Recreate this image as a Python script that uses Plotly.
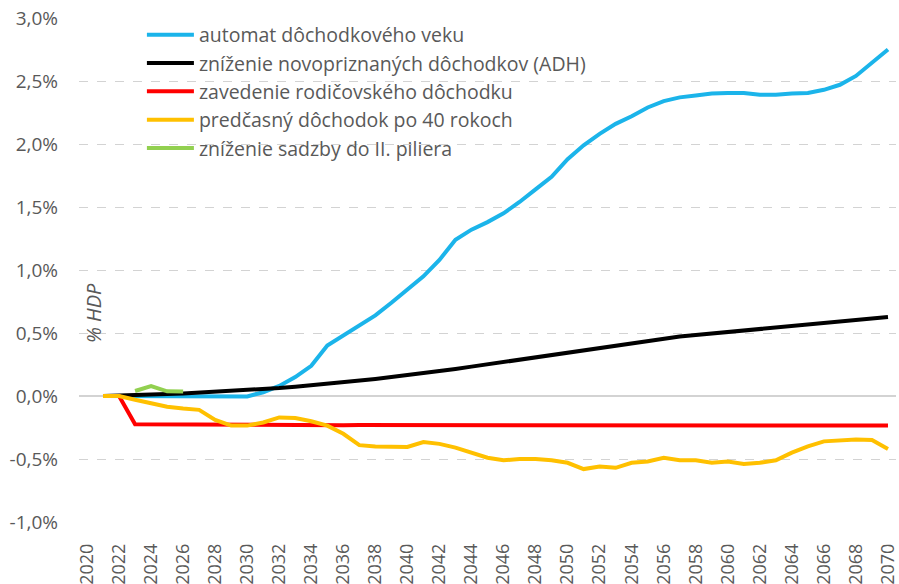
import plotly.graph_objects as go

years = list(range(2021, 2071))

automat = [0, 0, -0.005, -0.005, -0.005, -0.005, -0.005, -0.005, -0.005, -0.003,
           0.03, 0.08, 0.15, 0.24, 0.40, 0.48, 0.56, 0.64, 0.74, 0.85,
           0.95, 1.08, 1.24, 1.32, 1.38, 1.45, 1.54, 1.64, 1.74, 1.88,
           1.99, 2.08, 2.16, 2.22, 2.29, 2.34, 2.37, 2.385, 2.40, 2.405,
           2.405, 2.39, 2.39, 2.40, 2.405, 2.43, 2.47, 2.54, 2.64, 2.75]

adh = [0, 0.002, 0.005, 0.01, 0.015, 0.02, 0.026, 0.032, 0.039, 0.046,
       0.054, 0.063, 0.073, 0.084, 0.096, 0.108, 0.121, 0.135, 0.15, 0.165,
       0.18, 0.197, 0.215, 0.233, 0.252, 0.271, 0.29, 0.309, 0.328, 0.347,
       0.366, 0.385, 0.404, 0.423, 0.442, 0.46, 0.472, 0.484, 0.496, 0.508,
       0.52, 0.532, 0.543, 0.555, 0.567, 0.579, 0.591, 0.603, 0.615, 0.627]

rodic = [0, 0, -0.225, -0.226, -0.227, -0.228, -0.229, -0.230, -0.231, -0.232,
         -0.232, -0.232, -0.232, -0.232, -0.232, -0.232, -0.231, -0.231, -0.231, -0.231,
         -0.230, -0.230, -0.230, -0.230, -0.229, -0.229, -0.229, -0.229, -0.229, -0.229,
         -0.230, -0.230, -0.230, -0.231, -0.231, -0.232, -0.232, -0.233, -0.233, -0.233,
         -0.234, -0.234, -0.234, -0.234, -0.235, -0.235, -0.235, -0.235, -0.235, -0.235]

predcasny = [0, 0, -0.03, -0.06, -0.085, -0.10, -0.11, -0.19, -0.235, -0.235,
             -0.21, -0.17, -0.175, -0.20, -0.235, -0.30, -0.39, -0.40, -0.40, -0.405,
             -0.365, -0.38, -0.41, -0.45, -0.49, -0.51, -0.50, -0.50, -0.51, -0.53,
             -0.58, -0.56, -0.57, -0.53, -0.52, -0.49, -0.51, -0.51, -0.53, -0.52,
             -0.54, -0.53, -0.51, -0.45, -0.40, -0.36, -0.35, -0.345, -0.35, -0.42]

pilier_years = [2023, 2024, 2025, 2026]
pilier = [0.04, 0.078, 0.037, 0.036]

names = ["automat dôchodkového veku",
         "zníženie novopriznaných dôchodkov (ADH)",
         "zavedenie rodičovského dôchodku",
         "predčasný dôchodok po 40 rokoch",
         "zníženie sadzby do II. piliera"]
colors = ["#1BB4EA", "#000000", "#FF0000", "#FFC000", "#92D050"]

x_ticks = list(range(2020, 2071, 2))
y_ticks = [-1.0, -0.5, 0.0, 0.5, 1.0, 1.5, 2.0, 2.5, 3.0]
y_ticktext = ["-1,0%", "-0,5%", "0,0%", "0,5%", "1,0%", "1,5%", "2,0%", "2,5%", "3,0%"]

series = [(years, automat), (years, adh), (years, rodic), (years, predcasny),
          (pilier_years, pilier)]

fig = go.Figure()
for i, (xs, ys) in enumerate(series):
    fig.add_trace(go.Scatter(
        x=xs, y=ys, mode="lines", name=names[i],
        line=dict(color=colors[i], width=4),
    ))

font_family = "Open Sans, sans-serif"
gray = "#595959"

fig.update_layout(
    template="none",
    width=899, height=584,
    margin=dict(l=79, r=3, t=18, b=62),
    paper_bgcolor="white", plot_bgcolor="white",
    showlegend=True,
    legend=dict(
        x=0.077, y=1.005, xanchor="left", yanchor="top",
        bgcolor="rgba(0,0,0,0)",
        font=dict(family=font_family, size=19.5, color=gray),
        traceorder="normal",
        itemwidth=47,
    ),
    xaxis=dict(
        range=[2019.5, 2070.5],
        tickmode="array", tickvals=x_ticks,
        ticktext=[str(v) for v in x_ticks],
        tickangle=-90,
        tickfont=dict(family=font_family, size=18, color=gray),
        showgrid=False, zeroline=False, showline=False,
        ticks="", ticklabelstandoff=17, automargin=False,
        ticklabeloverflow="allow",
    ),
    yaxis=dict(
        range=[-1.0, 3.0],
        tickmode="array", tickvals=y_ticks, ticktext=y_ticktext,
        tickfont=dict(family=font_family, size=19, color=gray),
        showgrid=True, gridcolor="#D3D3D3", gridwidth=1, griddash="dash",
        zeroline=True, zerolinecolor="#D3D3D3", zerolinewidth=1.5,
        showline=False, ticks="", ticklabelstandoff=20, automargin=False,
    ),
)

fig.add_annotation(
    x=2020.45, y=0.66, xref="x", yref="y",
    text="<i>% HDP</i>", textangle=-90, showarrow=False,
    font=dict(family=font_family, size=20, color=gray),
)

fig.write_html("out.html", config={"displayModeBar": False},
               post_script="document.body.style.margin='0';")
